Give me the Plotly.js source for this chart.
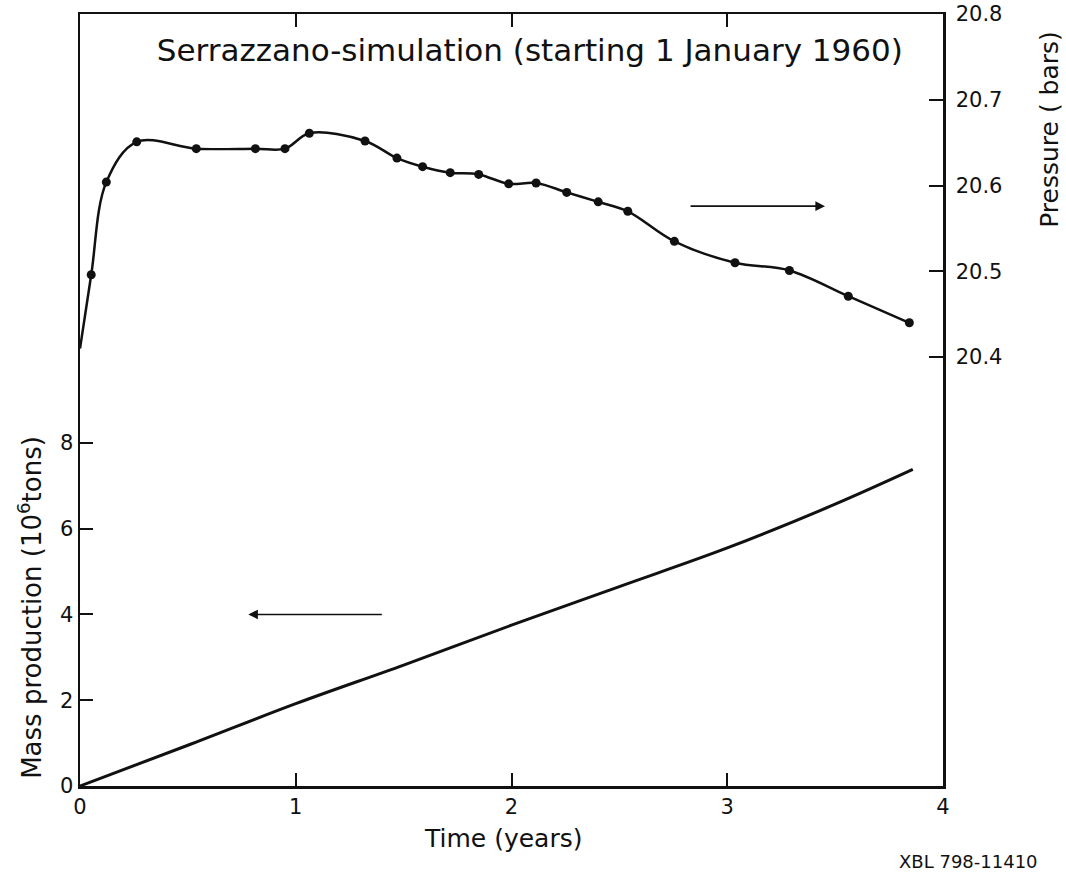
<!DOCTYPE html>
<html>
<head>
<meta charset="utf-8">
<script src="https://cdn.plot.ly/plotly-3.0.1.min.js"></script>
<style>html,body{margin:0;padding:0;background:#fff;}#chart{width:1066px;height:877px;}</style>
</head>
<body>
<div id="chart"></div>
<script>
// Pressure (bars) vs time (years); first entry is the curve start (no marker)
const pressureTime = [0.0, 0.052, 0.122, 0.263, 0.539, 0.813, 0.950, 1.063, 1.321, 1.469, 1.588, 1.716, 1.848, 1.987, 2.114, 2.256, 2.402, 2.539, 2.755, 3.036, 3.288, 3.561, 3.844];
const pressureVals = [20.41, 20.496, 20.604, 20.651, 20.643, 20.643, 20.643, 20.661, 20.652, 20.632, 20.622, 20.615, 20.613, 20.602, 20.603, 20.592, 20.581, 20.570, 20.535, 20.510, 20.501, 20.471, 20.440];
// Mass production (10^6 tons) vs time (years)
const massTime = [0, 0.5, 1.0, 1.5, 2.0, 2.5, 3.0, 3.5, 3.86];
const massVals = [0, 0.95, 1.92, 2.82, 3.75, 4.65, 5.55, 6.57, 7.38];
// Tick values
const xTicks = [0, 1, 2, 3, 4];
const massTicks = [0, 2, 4, 6, 8];
const pressureTicks = [20.4, 20.5, 20.6, 20.7, 20.8];

const FONT = 'DejaVu Sans, Verdana, sans-serif';
const INK = '#111';

const traces = [
  {x: massTime, y: massVals, type: 'scatter', mode: 'lines', line: {color: INK, width: 3, shape: 'spline'}, yaxis: 'y', hoverinfo: 'skip'},
  {x: pressureTime, y: pressureVals, type: 'scatter', mode: 'lines', line: {color: INK, width: 2.5, shape: 'spline', smoothing: 1}, yaxis: 'y2', hoverinfo: 'skip'},
  {x: pressureTime.slice(1), y: pressureVals.slice(1), type: 'scatter', mode: 'markers', marker: {color: INK, size: 9}, yaxis: 'y2', hoverinfo: 'skip'}
];

const layout = {
  width: 1066, height: 877,
  paper_bgcolor: '#fff', plot_bgcolor: '#fff',
  showlegend: false,
  margin: {l: 80, r: 123, t: 14, b: 91},
  font: {family: FONT, color: INK, size: 21},
  title: {text: 'Serrazzano-simulation (starting 1 January 1960)', font: {family: FONT, size: 31, color: INK}, x: 0.497, xanchor: 'center', y: 0.943, yanchor: 'middle', yref: 'container'},
  xaxis: {range: [0, 4], tickvals: xTicks, ticktext: xTicks.map(String), ticks: 'inside', ticklen: 13, tickwidth: 2, tickcolor: INK,
    showline: true, linewidth: 2.5, linecolor: INK, mirror: 'ticks', showgrid: false, zeroline: false, tickfont: {size: 21}},
  yaxis: {range: [0, 18], tickvals: massTicks, ticktext: massTicks.map(String), ticks: 'inside', ticklen: 13, tickwidth: 2, tickcolor: INK,
    showline: true, linewidth: 2.5, linecolor: INK, showgrid: false, zeroline: false, tickfont: {size: 21}},
  yaxis2: {range: [19.9, 20.8], overlaying: 'y', side: 'right', tickvals: pressureTicks, ticktext: pressureTicks.map(v => v.toFixed(1)),
    ticks: 'inside', ticklen: 14, tickwidth: 2, tickcolor: INK, showline: true, linewidth: 2.5, linecolor: INK,
    showgrid: false, zeroline: false, tickfont: {size: 21}, ticklabelstandoff: 6},
  annotations: [
    {text: 'Mass production (10<sup>6</sup>tons)', xref: 'paper', yref: 'paper', x: -0.058, y: 0.232, xanchor: 'center', yanchor: 'middle', textangle: -90, showarrow: false, font: {size: 26}},
    {text: 'Pressure ( bars)', xref: 'paper', yref: 'paper', x: 1.124, y: 0.85, xanchor: 'center', yanchor: 'middle', textangle: -90, showarrow: false, font: {size: 25}},
    {text: 'Time (years)', xref: 'paper', yref: 'paper', x: 0.49, y: -0.068, xanchor: 'center', yanchor: 'middle', showarrow: false, font: {size: 25}},
    {text: 'XBL 798-11410', xref: 'paper', yref: 'paper', x: 1.112, y: -0.098, xanchor: 'right', yanchor: 'middle', showarrow: false, font: {size: 18}},
    {x: 3.453, y: 20.576, xref: 'x', yref: 'y2', ax: 2.823, ay: 20.576, axref: 'x', ayref: 'y2', text: '', showarrow: true, arrowhead: 2, arrowsize: 1.2, arrowwidth: 1.6, arrowcolor: INK},
    {x: 0.78, y: 4.0, xref: 'x', yref: 'y', ax: 1.406, ay: 4.0, axref: 'x', ayref: 'y', text: '', showarrow: true, arrowhead: 2, arrowsize: 1.2, arrowwidth: 1.6, arrowcolor: INK}
  ]
};

Plotly.newPlot('chart', traces, layout, {displayModeBar: false, staticPlot: true});
</script>
</body>
</html>
